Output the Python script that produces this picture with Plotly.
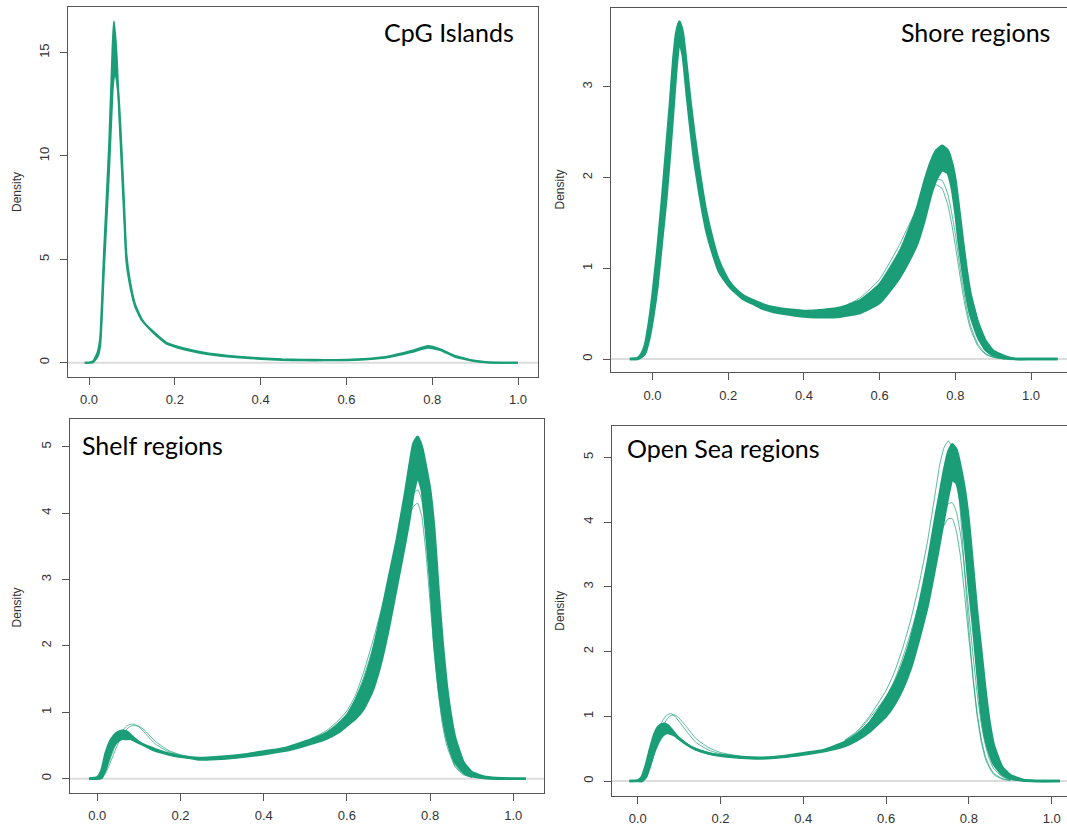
import plotly.graph_objects as go

GREEN = "#1b9e77"
OUTLIER = "rgba(27,158,119,0.72)"
W, H = 1067, 825

# ---------------- data ----------------
panel_titles = ["CpG Islands", "Shore regions", "Shelf regions", "Open Sea regions"]
x_tick_values = [0.0, 0.2, 0.4, 0.6, 0.8, 1.0]
x_tick_labels = ["0.0", "0.2", "0.4", "0.6", "0.8", "1.0"]
cpg_y_ticks = [0, 5, 10, 15]
shore_y_ticks = [0, 1, 2, 3]
shelf_y_ticks = [0, 1, 2, 3, 4, 5]
sea_y_ticks = [0, 1, 2, 3, 4, 5]

# CpG Islands: outer / inner edge of the bundle of sample curves
cpg_x = [-0.01, 0.0, 0.01, 0.02, 0.026, 0.035, 0.047, 0.055, 0.058, 0.062, 0.065, 0.07, 0.076, 0.082,
         0.087, 0.095, 0.107, 0.123, 0.147, 0.18, 0.22, 0.26, 0.3, 0.35, 0.4, 0.45, 0.5, 0.55, 0.6, 0.65,
         0.7, 0.75, 0.79, 0.82, 0.85, 0.88, 0.9, 0.93, 0.96, 1.0]
cpg_hi = [0, 0, 0.08, 0.5, 1.2, 5.4, 10.6, 15.3, 16.5, 15.6, 14.6, 12.2, 9.6, 7.0,
          4.9, 3.8, 2.75, 2.05, 1.55, 0.97, 0.7, 0.52, 0.39, 0.28, 0.21, 0.16, 0.14, 0.13, 0.14, 0.19,
          0.31, 0.56, 0.8, 0.64, 0.35, 0.18, 0.09, 0.02, 0, 0]
cpg_lo = [0, 0, 0.03, 0.3, 0.8, 4.6, 9.4, 13.2, 13.8, 14.0, 13.6, 12.6, 10.3, 7.6,
          5.3, 4.0, 2.85, 2.1, 1.5, 0.92, 0.65, 0.47, 0.35, 0.25, 0.18, 0.13, 0.11, 0.11, 0.12, 0.16,
          0.27, 0.5, 0.72, 0.6, 0.31, 0.15, 0.07, 0.01, 0, 0]

# Shore regions
shore_x = [-0.06, -0.04, -0.03, -0.02, -0.01, 0.0, 0.013, 0.025, 0.036, 0.046, 0.055, 0.063, 0.071, 0.08,
           0.091, 0.1, 0.11, 0.125, 0.142, 0.16, 0.174, 0.19, 0.205, 0.22, 0.24, 0.27, 0.294, 0.32, 0.347,
           0.375, 0.4, 0.45, 0.5, 0.55, 0.6, 0.65, 0.68, 0.7, 0.72, 0.735, 0.75, 0.765, 0.78, 0.79, 0.8,
           0.81, 0.82, 0.83, 0.84, 0.86, 0.88, 0.9, 0.93, 0.96, 1.0, 1.07]
shore_hi = [0, 0.01, 0.05, 0.15, 0.38, 0.7, 1.2, 1.75, 2.3, 2.8, 3.3, 3.6, 3.72, 3.6,
            3.2, 2.85, 2.5, 2.05, 1.62, 1.3, 1.1, 0.95, 0.84, 0.77, 0.7, 0.64, 0.6, 0.57, 0.55,
            0.54, 0.53, 0.54, 0.57, 0.65, 0.82, 1.15, 1.45, 1.68, 1.98, 2.17, 2.3, 2.35, 2.3, 2.18, 1.98,
            1.65, 1.3, 0.98, 0.72, 0.4, 0.2, 0.09, 0.03, 0, 0, 0]
shore_lo = [0, 0, 0.02, 0.06, 0.2, 0.42, 0.8, 1.3, 1.75, 2.25, 2.75, 3.2, 3.5, 3.35,
            2.9, 2.55, 2.2, 1.8, 1.42, 1.15, 0.98, 0.87, 0.79, 0.73, 0.66, 0.6, 0.55, 0.52, 0.5,
            0.48, 0.47, 0.46, 0.47, 0.51, 0.62, 0.88, 1.1, 1.28, 1.55, 1.8, 1.98, 2.08, 2.05, 1.9, 1.62,
            1.25, 0.95, 0.68, 0.48, 0.24, 0.1, 0.04, 0.01, 0, 0, 0]
shore_out_x = [0.45, 0.5, 0.55, 0.6, 0.65, 0.68, 0.7, 0.72, 0.735, 0.75, 0.765, 0.78, 0.79, 0.8,
               0.81, 0.82, 0.83, 0.84, 0.86, 0.88, 0.9, 0.93]
shore_out1 = [0.53, 0.57, 0.68, 0.88, 1.24, 1.5, 1.66, 1.8, 1.88, 1.92, 1.88, 1.7, 1.5, 1.25,
              0.98, 0.72, 0.5, 0.33, 0.14, 0.05, 0.02, 0.0]
shore_out2 = [0.52, 0.56, 0.65, 0.84, 1.18, 1.42, 1.6, 1.78, 1.9, 1.98, 1.97, 1.82, 1.62, 1.38,
              1.08, 0.8, 0.56, 0.37, 0.16, 0.06, 0.02, 0.0]

# Shelf regions
shelf_x = [-0.02, 0.0, 0.01, 0.02, 0.03, 0.04, 0.05, 0.06, 0.07, 0.08, 0.09, 0.1, 0.12, 0.14, 0.17, 0.2,
           0.245, 0.3, 0.35, 0.4, 0.45, 0.5, 0.55, 0.58, 0.6, 0.62, 0.64, 0.66, 0.68, 0.7, 0.72, 0.74,
           0.75, 0.76, 0.77, 0.78, 0.79, 0.8, 0.81, 0.82, 0.83, 0.84, 0.85, 0.86, 0.88, 0.9, 0.93, 0.96,
           1.0, 1.03]
shelf_hi = [0, 0.02, 0.12, 0.38, 0.55, 0.65, 0.7, 0.72, 0.71, 0.66, 0.6, 0.55, 0.48, 0.42, 0.37, 0.33,
            0.31, 0.33, 0.36, 0.41, 0.46, 0.56, 0.68, 0.82, 0.95, 1.17, 1.45, 1.85, 2.4, 3.0, 3.6, 4.3,
            4.7, 5.05, 5.15, 5.0, 4.7, 4.35, 3.75, 2.85, 2.05, 1.4, 0.95, 0.62, 0.25, 0.1, 0.03, 0.01,
            0, 0]
shelf_lo = [0, 0, 0.01, 0.15, 0.35, 0.5, 0.57, 0.6, 0.6, 0.6, 0.57, 0.54, 0.49, 0.44, 0.38, 0.34,
            0.29, 0.3, 0.33, 0.37, 0.42, 0.5, 0.6, 0.7, 0.8, 0.9, 1.05, 1.3, 1.7, 2.25, 2.9, 3.55,
            3.9, 4.3, 4.55, 4.35, 3.75, 3.0, 2.05, 1.4, 0.95, 0.62, 0.4, 0.25, 0.1, 0.04, 0.01, 0,
            0, 0]
shelf_out_x = [0.5, 0.55, 0.58, 0.6, 0.62, 0.64, 0.66, 0.68, 0.7, 0.72, 0.74, 0.75, 0.76, 0.77, 0.78,
               0.79, 0.8, 0.81, 0.82, 0.83, 0.84, 0.86, 0.88, 0.9]
shelf_out1 = [0.56, 0.72, 0.88, 1.02, 1.25, 1.6, 2.02, 2.48, 2.95, 3.4, 3.8, 3.98, 4.1, 4.15, 3.95,
              3.4, 2.65, 1.9, 1.28, 0.8, 0.5, 0.18, 0.06, 0.02]
shelf_out2 = [0.55, 0.7, 0.85, 0.98, 1.2, 1.52, 1.92, 2.38, 2.88, 3.4, 3.9, 4.12, 4.3, 4.35, 4.2,
              3.7, 2.95, 2.15, 1.45, 0.92, 0.58, 0.2, 0.07, 0.02]
shelf_out3 = [0.54, 0.68, 0.82, 0.95, 1.15, 1.45, 1.85, 2.3, 2.85, 3.45, 4.0, 4.3, 4.5, 4.55, 4.4,
              3.95, 3.25, 2.45, 1.7, 1.08, 0.68, 0.24, 0.08, 0.02]
shelf_bump_x = [0.0, 0.01, 0.02, 0.03, 0.04, 0.05, 0.06, 0.07, 0.08, 0.09, 0.1, 0.11, 0.12, 0.14, 0.17,
                0.2, 0.25]
shelf_bump1 = [0, 0.02, 0.12, 0.28, 0.45, 0.6, 0.72, 0.79, 0.82, 0.82, 0.78, 0.72, 0.65, 0.52, 0.41,
               0.35, 0.31]
shelf_bump2 = [0, 0.01, 0.08, 0.22, 0.38, 0.53, 0.65, 0.74, 0.79, 0.8, 0.79, 0.75, 0.69, 0.56, 0.43,
               0.36, 0.31]

# Open Sea regions
sea_x = [-0.02, 0.0, 0.01, 0.02, 0.03, 0.04, 0.05, 0.06, 0.07, 0.08, 0.09, 0.1, 0.12, 0.14, 0.17, 0.2,
         0.25, 0.3, 0.35, 0.4, 0.45, 0.5, 0.53, 0.56, 0.6, 0.62, 0.64, 0.66, 0.68, 0.7, 0.72, 0.73,
         0.74, 0.75, 0.76, 0.77, 0.78, 0.79, 0.8, 0.81, 0.82, 0.83, 0.84, 0.85, 0.86, 0.88, 0.9, 0.93,
         0.96, 1.02]
sea_hi = [0, 0.01, 0.06, 0.25, 0.5, 0.72, 0.84, 0.88, 0.87, 0.81, 0.73, 0.66, 0.56, 0.49, 0.43, 0.4,
          0.37, 0.36, 0.38, 0.43, 0.48, 0.6, 0.72, 0.9, 1.28, 1.5, 1.8, 2.2, 2.72, 3.35, 4.1, 4.45,
          4.8, 5.08, 5.2, 5.12, 4.85, 4.5, 4.0, 3.3, 2.6, 2.0, 1.4, 0.9, 0.56, 0.22, 0.09, 0.02,
          0, 0]
sea_lo = [0, 0, 0, 0.06, 0.25, 0.45, 0.6, 0.7, 0.74, 0.73, 0.7, 0.65, 0.56, 0.49, 0.43, 0.39,
          0.36, 0.35, 0.37, 0.41, 0.46, 0.54, 0.63, 0.76, 1.0, 1.18, 1.42, 1.75, 2.2, 2.7, 3.35, 3.7,
          4.05, 4.4, 4.65, 4.6, 4.3, 3.7, 3.0, 2.4, 1.7, 1.05, 0.65, 0.42, 0.26, 0.1, 0.04, 0.01,
          0, 0]
sea_out_x = [0.5, 0.53, 0.56, 0.6, 0.62, 0.64, 0.66, 0.68, 0.7, 0.72, 0.73, 0.74, 0.75, 0.76, 0.77,
             0.78, 0.79, 0.8, 0.81, 0.82, 0.83, 0.84, 0.85, 0.86, 0.88, 0.9]
sea_out1 = [0.62, 0.75, 0.97, 1.3, 1.55, 1.9, 2.3, 2.75, 3.2, 3.6, 3.8, 3.95, 4.05, 4.05, 3.85,
            3.45, 2.85, 2.2, 1.6, 1.05, 0.65, 0.38, 0.22, 0.12, 0.04, 0.01]
sea_out2 = [0.63, 0.77, 1.0, 1.4, 1.68, 2.05, 2.5, 3.05, 3.7, 4.5, 4.9, 5.15, 5.25, 5.15, 4.8,
            4.1, 3.2, 2.35, 1.6, 1.0, 0.6, 0.34, 0.2, 0.1, 0.03, 0.01]
sea_out3 = [0.6, 0.72, 0.92, 1.22, 1.45, 1.78, 2.2, 2.68, 3.2, 3.7, 3.95, 4.15, 4.28, 4.3, 4.15,
            3.8, 3.25, 2.6, 1.95, 1.35, 0.88, 0.55, 0.33, 0.19, 0.07, 0.02]
sea_bump_x = [0.02, 0.03, 0.04, 0.05, 0.06, 0.07, 0.08, 0.09, 0.1, 0.12, 0.14, 0.17, 0.2, 0.25]
sea_bump1 = [0.1, 0.3, 0.55, 0.78, 0.93, 1.02, 1.04, 1.0, 0.92, 0.75, 0.6, 0.48, 0.42, 0.38]
sea_bump2 = [0.05, 0.2, 0.42, 0.65, 0.83, 0.95, 1.01, 1.02, 0.97, 0.82, 0.66, 0.52, 0.44, 0.38]


# ---------------- layout helpers ----------------
def px_x(p):
    return p / W


def px_y(p):
    return 1 - p / H


panels = [
    dict(x=cpg_x, hi=cpg_hi, lo=cpg_lo, extra=[], yt=cpg_y_ticks, lw=2.0,
         box=(68, 538, 7.3, 376.7), rx=[-0.049, 1.0466], ry=[-0.68, 17.19]),
    dict(x=shore_x, hi=shore_hi, lo=shore_lo,
         extra=[(shore_out_x, shore_out1), (shore_out_x, shore_out2)], yt=shore_y_ticks, lw=2.6,
         box=(611, 1067, 8, 372), rx=[-0.1096, 1.095], ry=[-0.143, 3.87]),
    dict(x=shelf_x, hi=shelf_hi, lo=shelf_lo,
         extra=[(shelf_out_x, shelf_out1), (shelf_out_x, shelf_out2), (shelf_out_x, shelf_out3),
                (shelf_bump_x, shelf_bump1), (shelf_bump_x, shelf_bump2)], yt=shelf_y_ticks, lw=2.6,
         box=(70, 544, 419.3, 792.7), rx=[-0.0656, 1.0738], ry=[-0.211, 5.413]),
    dict(x=sea_x, hi=sea_hi, lo=sea_lo,
         extra=[(sea_out_x, sea_out1), (sea_out_x, sea_out2), (sea_out_x, sea_out3),
                (sea_bump_x, sea_bump1), (sea_bump_x, sea_bump2)], yt=sea_y_ticks, lw=2.6,
         box=(612, 1067, 426, 795.7), rx=[-0.0621, 1.037], ry=[-0.227, 5.483]),
]

title_pos = [(516, 32, "right"), (1052, 32, "right"), (79.5, 445, "left"), (625, 447.5, "left")]
density_pos = [(17, 192), (559.5, 190), (17.4, 607), (560, 610.7)]

fig = go.Figure()
layout = dict(
    width=W, height=H, margin=dict(l=0, r=0, t=0, b=0),
    paper_bgcolor="white", plot_bgcolor="white", showlegend=False,
    annotations=[], shapes=[],
)

TICKFONT = dict(family="Liberation Sans, Arial, sans-serif", size=13, color="#333333")
LINEC = "#555555"
SPL = dict(shape="spline", smoothing=0.45)

for i, p in enumerate(panels):
    n = "" if i == 0 else str(i + 1)
    xa, ya = "x" + n, "y" + n
    l, r, t, b = p["box"]
    layout["xaxis" + n] = dict(
        domain=[px_x(l), px_x(r)], range=p["rx"], anchor=ya,
        tickmode="array", tickvals=x_tick_values, ticktext=x_tick_labels,
        ticks="outside", ticklen=7, tickcolor=LINEC, tickwidth=1,
        showline=True, linecolor=LINEC, linewidth=1, mirror=True,
        showgrid=False, zeroline=False, tickfont=TICKFONT, ticklabelstandoff=4,
    )
    layout["yaxis" + n] = dict(
        domain=[px_y(b), px_y(t)], range=p["ry"], anchor=xa,
        tickmode="array", tickvals=p["yt"], ticktext=[str(v) for v in p["yt"]],
        ticks="outside", ticklen=7, tickcolor=LINEC, tickwidth=1, tickangle=-90,
        showline=True, linecolor=LINEC, linewidth=1, mirror=True,
        showgrid=False, zeroline=False, tickfont=TICKFONT, ticklabelstandoff=6,
    )
    # grey zero line (as drawn by R's density plot)
    layout["shapes"].append(dict(
        type="line", xref=xa + " domain", yref=ya, x0=0, x1=1, y0=0, y1=0,
        line=dict(color="#dcdcdc", width=2), layer="below",
    ))
    # core band of overlapping curves
    fig.add_trace(go.Scatter(x=p["x"], y=p["hi"], mode="lines", xaxis=xa, yaxis=ya,
                             line=dict(color=GREEN, width=p["lw"], **SPL), hoverinfo="skip"))
    fig.add_trace(go.Scatter(x=p["x"], y=p["lo"], mode="lines", xaxis=xa, yaxis=ya,
                             fill="tonexty", fillcolor=GREEN,
                             line=dict(color=GREEN, width=p["lw"], **SPL), hoverinfo="skip"))
    for ex, ey in p["extra"]:
        fig.add_trace(go.Scatter(x=ex, y=ey, mode="lines", xaxis=xa, yaxis=ya,
                                 line=dict(color=OUTLIER, width=1, **SPL), hoverinfo="skip"))
    # panel title
    tx, ty, anc = title_pos[i]
    layout["annotations"].append(dict(
        x=px_x(tx), y=px_y(ty), xref="paper", yref="paper", xanchor=anc, yanchor="middle",
        text=panel_titles[i], showarrow=False,
        font=dict(family="Lato, Carlito, Calibri, sans-serif", size=25, color="black"),
    ))
    dx, dy = density_pos[i]
    layout["annotations"].append(dict(
        x=px_x(dx), y=px_y(dy), xref="paper", yref="paper", xanchor="center", yanchor="middle",
        text="Density", textangle=-90, showarrow=False,
        font=dict(family="Liberation Sans, Arial, sans-serif", size=12, color="#333333"),
    ))

fig.update_layout(**layout)
fig.write_html("out.html")
